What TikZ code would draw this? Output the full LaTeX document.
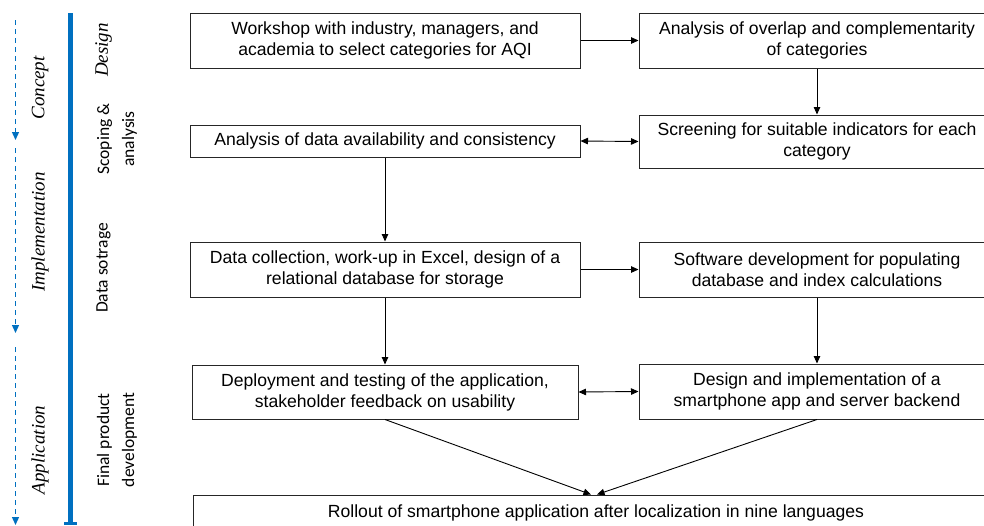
\documentclass[tikz,border=0pt]{standalone}
\usepackage{fontspec}
\setmainfont{Liberation Sans}
\newfontfamily\phasefont{Liberation Serif}
\newfontfamily\stagefont{Carlito}
\usetikzlibrary{arrows.meta}
\definecolor{phaseblue}{RGB}{0,112,192}
\begin{document}
\begin{tikzpicture}[x=1pt,y=-1pt,
  box/.style={draw=black!85, line width=1pt, rectangle, align=center, inner sep=2pt,
    font=\fontsize{17.6}{21}\selectfont},
  conn/.style={draw=black, line width=0.9pt, -{Triangle[length=7.5pt,width=6.5pt]}},
  dconn/.style={draw=black, line width=0.9pt, {Triangle[length=7.5pt,width=6.5pt]}-{Triangle[length=7.5pt,width=6.5pt]}},
  phase/.style={rotate=90, font=\phasefont\itshape\fontsize{19}{22}\selectfont, inner sep=0pt},
  stage/.style={rotate=90, align=center, font=\stagefont\fontsize{17.5}{25}\selectfont, inner sep=0pt},
  timeline/.style={draw=phaseblue, line width=1.3pt, dash pattern=on 5pt off 4pt,
    -{Triangle[length=8pt,width=7pt]}}
]
\useasboundingbox (0,0) rectangle (984,525);
\clip (0,0) rectangle (984,525);

% boxes
\node[box, minimum width=390pt, minimum height=55pt] (b1) at (385,40.5)
  {Workshop with industry,  managers, and\\academia to select categories for AQI};
\node[box, minimum width=356pt, minimum height=55pt] (b2) at (817,40.5)
  {Analysis of overlap and complementarity\\of categories};
\node[box, minimum width=390pt, minimum height=32pt] (b3) at (385,141)
  {Analysis of data availability and consistency};
\node[box, minimum width=356pt, minimum height=53pt] (b4) at (817,141.5)
  {Screening for suitable indicators for each\\category};
\node[box, minimum width=390pt, minimum height=55pt] (b5) at (385,269.5)
  {Data collection, work-up in Excel, design of a\\relational database for storage};
\node[box, minimum width=356pt, minimum height=55pt] (b6) at (817,269.5)
  {Software development for populating\\database and index calculations};
\node[box, minimum width=386pt, minimum height=54pt] (b7) at (385,392)
  {Deployment and testing of the application,\\stakeholder feedback on usability};
\node[box, minimum width=356pt, minimum height=55pt] (b8) at (817,391.5)
  {Design and implementation of a\\smartphone app and server backend};
\node[box, minimum width=806pt, minimum height=36pt] (b9) at (596,513)
  {Rollout of smartphone application after localization in nine languages};

% connectors
\draw[conn] (b1.east) -- (b2.west);
\draw[conn] (b2.south) -- (b4.north);
\draw[dconn] (b3.east) -- (b4.west);
\draw[conn] (b3.south) -- (b5.north);
\draw[conn] (b5.east) -- (b6.west);
\draw[conn] (b5.south) -- (b7.north);
\draw[conn] (b6.south) -- (b8.north);
\draw[dconn] (b7.east) -- (b8.west);
\draw[conn] (b7.south) -- ([xshift=-5pt]b9.north);
\draw[conn] (b8.south) -- ([xshift=1pt]b9.north);

% timeline (dashed)
\coordinate (t0) at (15.5,20);
\coordinate (t1) at (15.5,140);
\coordinate (t2) at (15.5,148);
\coordinate (t3) at (15.5,333);
\coordinate (t4) at (15.5,347);
\coordinate (t5) at (15.5,525);
\draw[timeline] (t0) -- (t1);
\draw[timeline] (t2) -- (t3);
\draw[timeline] (t4) -- (t5);

% solid stage bar
\coordinate (s0) at (70.5,13);
\coordinate (s1) at (70.5,523);
\coordinate (s2) at (64,523.5);
\coordinate (s3) at (77,523.5);
\draw[draw=phaseblue, line width=4.5pt] (s0) -- (s1);
\draw[draw=phaseblue, line width=3pt] (s2) -- (s3);

% phase labels
\node[phase] (concept) at (40,88) {Concept};
\node[phase] (impl) at (40,232) {Implementation};
\node[phase] (appl) at (40,450) {Application};

% stage labels
\node[phase] (design) at (103.5,50) {Design};
\node[stage] (scoping) at (117,139) {Scoping \&\\analysis};
\node[stage] (storage) at (103.5,268) {Data sotrage};
\node[stage] (final) at (117,440) {Final product\\development};
\end{tikzpicture}
\end{document}
